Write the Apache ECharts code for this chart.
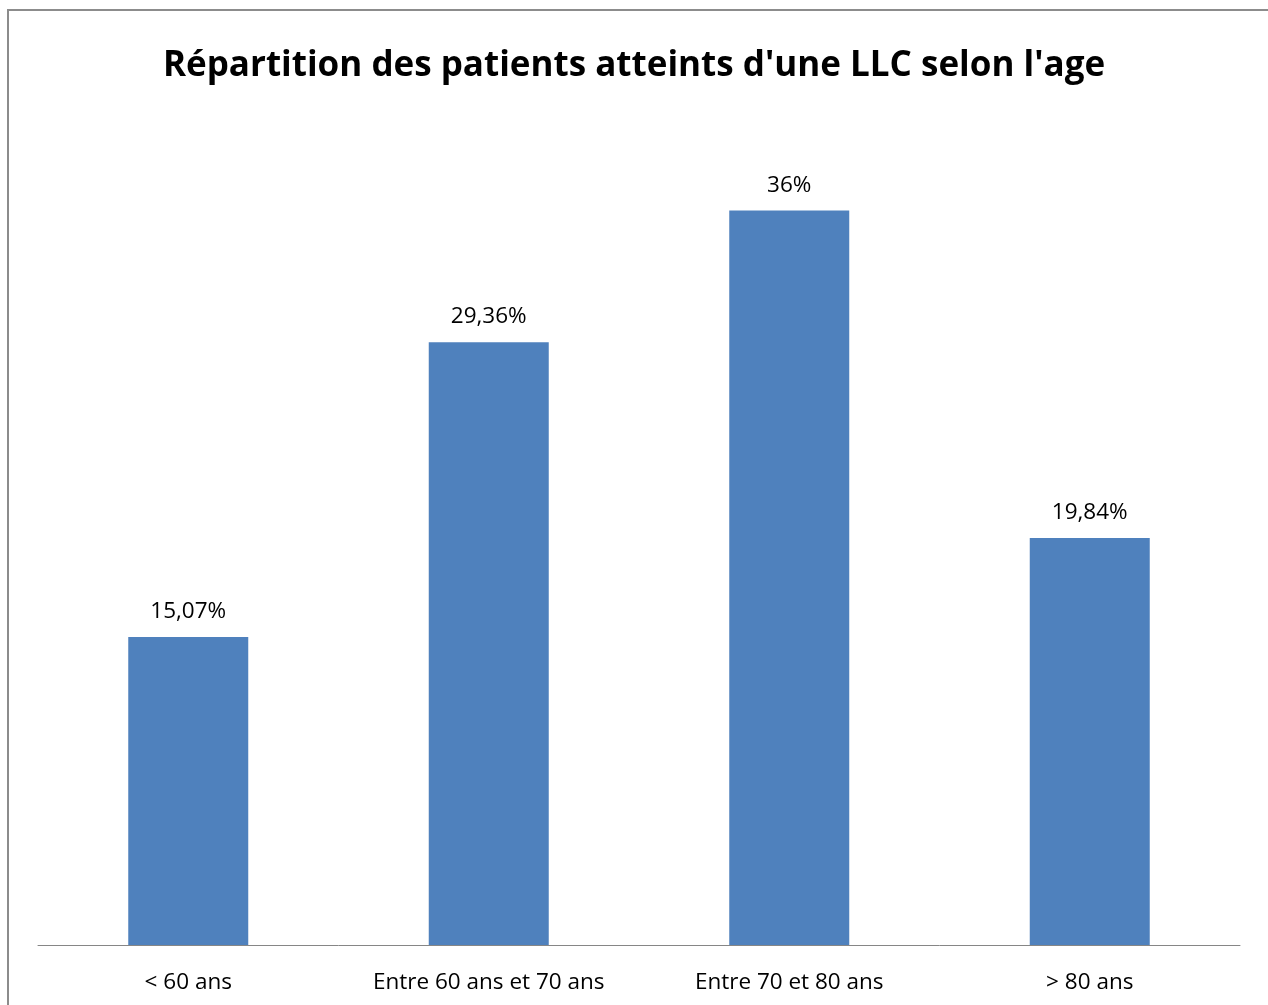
<!DOCTYPE html>
<html>
<head>
    <meta charset="utf-8">
    <title>Répartition LLC</title>
    <script src="https://cdn.jsdelivr.net/npm/echarts@6/dist/echarts.min.js"></script>
    <style>
        html, body { margin: 0; padding: 0; background: #fff; }
        #main { width: 1268px; height: 1005px; }
    </style>
</head>
<body>
<div id="main"></div>
<script type="text/javascript">
    // données (hauteurs, étiquettes telles qu'affichées)
    var categories = ['< 60 ans', 'Entre 60 ans et 70 ans', 'Entre 70 et 80 ans', '> 80 ans'];
    var values = [15.1, 29.55, 36, 19.95];
    var valueLabels = ['15,07%', '29,36%', '36%', '19,84%'];

    var font = '"Open Sans", "Noto Sans", sans-serif';

    var myChart = echarts.init(document.getElementById('main'));
    myChart.setOption({
        backgroundColor: '#fff',
        animation: false,
        title: {
            text: "Répartition des patients atteints d'une LLC selon l'age",
            left: 'center',
            top: 44,
            textStyle: {
                fontFamily: font,
                fontWeight: 'bold',
                fontSize: 35,
                color: '#000'
            }
        },
        graphic: [{
            type: 'rect',
            shape: { x: 8, y: 10, width: 1400, height: 1200 },
            style: { fill: 'none', stroke: '#8c8c8c', lineWidth: 2 },
            silent: true
        }],
        grid: {
            left: 38,
            right: 28,
            top: 129,
            bottom: 60
        },
        xAxis: {
            type: 'category',
            data: categories,
            axisLine: { lineStyle: { color: '#868686', width: 1 } },
            axisTick: { show: false },
            axisLabel: {
                interval: 0,
                margin: 26,
                color: '#000',
                fontFamily: font,
                fontSize: 22.5
            }
        },
        yAxis: {
            type: 'value',
            min: 0,
            max: 40,
            show: false,
            splitLine: { show: false }
        },
        series: [{
            type: 'bar',
            barWidth: 120,
            data: values,
            itemStyle: { color: '#4f81bd' },
            label: {
                show: true,
                position: 'top',
                distance: 14,
                color: '#000',
                fontFamily: font,
                fontSize: 22.5,
                formatter: function (p) {
                    return valueLabels[p.dataIndex];
                }
            }
        }]
    });
</script>
</body>
</html>
